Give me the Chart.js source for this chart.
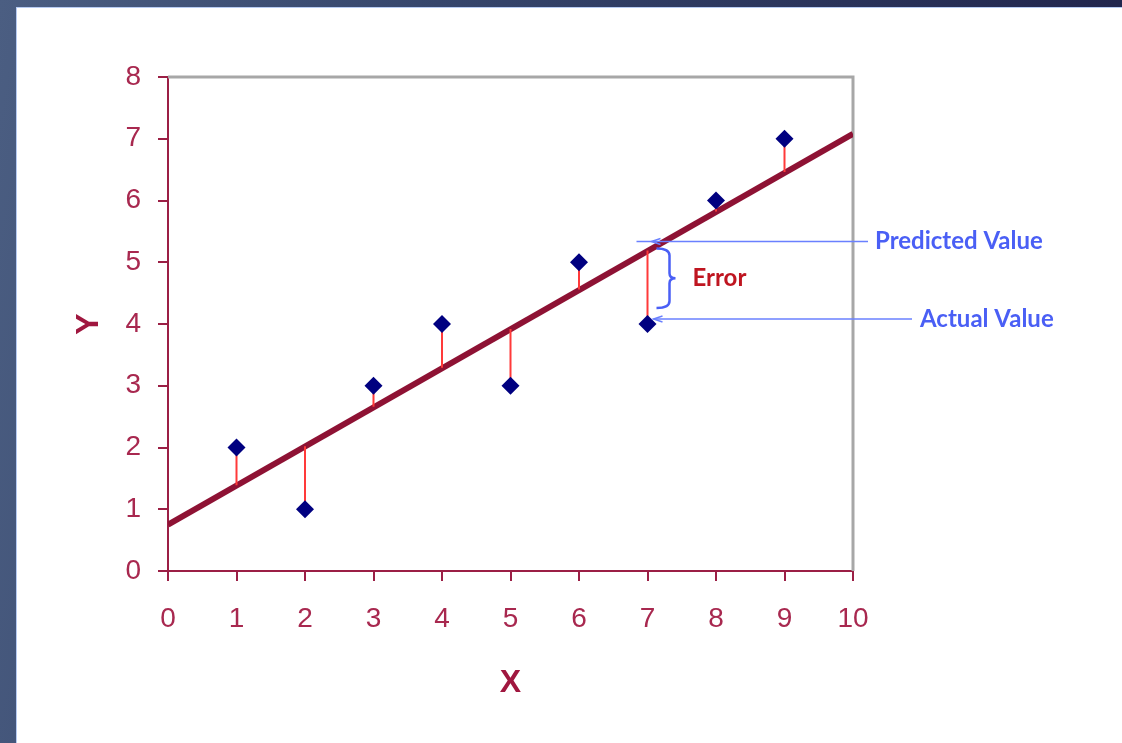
<!DOCTYPE html>
<html lang="en">
<head>
<meta charset="UTF-8" />
<title>Regression Error</title>
<script src="https://cdn.jsdelivr.net/npm/chart.js@4.4.0/dist/chart.umd.min.js"></script>
<style>
  html, body { margin: 0; padding: 0; width: 1122px; height: 743px; overflow: hidden; }
  body {
    position: relative;
    background: linear-gradient(100deg, #4b5e82 0%, #36466c 35%, #1e2048 100%);
  }
  .panel {
    position: absolute; left: 16px; top: 7px; right: 0; bottom: 0;
    background: #fff;
    border-left: 1px solid #b7cbf2;
    border-top: 1px solid #b7cbf2;
  }
  .chart-box { position: absolute; left: 0; top: 0; width: 1122px; height: 743px; }
</style>
</head>
<body>
<div class="panel"></div>
<div class="chart-box"><canvas id="chart"></canvas></div>

<script>
  // observations
  const xValues = [1, 2, 3, 4, 5, 6, 7, 8, 9];
  const yActual = [2, 1, 3, 4, 3, 5, 4, 6, 7];
  // fitted line value at each x
  const yPredicted = [1.39, 2.02, 2.66, 3.29, 3.92, 4.56, 5.19, 5.82, 6.46];
  // fitted line end points
  const fitX = [0, 10];
  const fitY = [0.75, 7.08];

  const xRange = [0, 10];
  const yRange = [0, 8];

  const calloutIndex = 6; // point at x = 7 carries the labels

  const axisRed = "#9b1f45";
  const labelRed = "#a8284f";
  const blue = "#4a5ff5";

  const fitPts = fitX.map((v, i) => ({ x: v, y: fitY[i] }));
  const actualPts = xValues.map((v, i) => ({ x: v, y: yActual[i] }));
  const residualPts = [];
  xValues.forEach((v, i) => {
    residualPts.push({ x: v, y: yActual[i] }, { x: v, y: yPredicted[i] }, { x: v, y: null });
  });

  // grey top/right edge of the plot box
  const framePlugin = {
    id: "frame",
    beforeDatasetsDraw(chart) {
      const { ctx, chartArea: a } = chart;
      ctx.save();
      ctx.strokeStyle = "#a7a7a7";
      ctx.lineWidth = 3;
      ctx.beginPath();
      ctx.moveTo(a.left, a.top);
      ctx.lineTo(a.right, a.top);
      ctx.lineTo(a.right, a.bottom);
      ctx.stroke();
      ctx.restore();
    }
  };

  function arrowLeft(ctx, x, y) {
    ctx.beginPath();
    ctx.moveTo(x + 9, y - 3);
    ctx.lineTo(x, y);
    ctx.lineTo(x + 9, y + 3);
    ctx.stroke();
  }

  // predicted / actual pointers, brace and "Error" text
  const calloutPlugin = {
    id: "callout",
    afterDatasetsDraw(chart) {
      const { ctx, scales: { x, y } } = chart;
      const px = x.getPixelForValue(xValues[calloutIndex]);
      const predY = y.getPixelForValue(yPredicted[calloutIndex]) - 9;
      const actY = y.getPixelForValue(yActual[calloutIndex]) - 5;

      ctx.save();
      ctx.strokeStyle = "#6a80ff";
      ctx.lineWidth = 1.5;

      ctx.beginPath();
      ctx.moveTo(px - 11, predY);
      ctx.lineTo(x.right + 15, predY);
      ctx.stroke();
      arrowLeft(ctx, px + 4, predY);

      ctx.beginPath();
      ctx.moveTo(px + 6, actY);
      ctx.lineTo(x.right + 59, actY);
      ctx.stroke();
      arrowLeft(ctx, px + 6, actY);

      // brace
      const bx = px + 22, top = predY + 7, bot = actY - 11, mid = (top + bot) / 2;
      ctx.strokeStyle = blue;
      ctx.lineWidth = 2.5;
      ctx.beginPath();
      ctx.moveTo(bx - 13, top);
      ctx.quadraticCurveTo(bx, top, bx, top + 7);
      ctx.lineTo(bx, mid - 5);
      ctx.quadraticCurveTo(bx, mid, bx + 6, mid);
      ctx.quadraticCurveTo(bx, mid, bx, mid + 5);
      ctx.lineTo(bx, bot - 7);
      ctx.quadraticCurveTo(bx, bot, bx - 13, bot);
      ctx.stroke();

      ctx.font = "bold 24px Lato";
      ctx.textBaseline = "middle";
      ctx.fillStyle = blue;
      ctx.fillText("Predicted Value", x.right + 22, predY);
      ctx.fillText("Actual Value", x.right + 67, actY);
      ctx.fillStyle = "#bf1520";
      ctx.fillText("Error", px + 45, mid);
      ctx.restore();
    }
  };

  const tickFont = { family: "Liberation Sans", size: 28 };
  const titleFont = { family: "Liberation Sans", size: 32, weight: "bold" };

  new Chart(document.getElementById("chart"), {
    type: "scatter",
    data: {
      datasets: [
        {
          data: actualPts,
          pointStyle: "rectRot",
          pointRadius: 9,
          backgroundColor: "#000080",
          borderColor: "#000080",
          borderWidth: 0
        },
        {
          data: residualPts,
          showLine: true,
          spanGaps: false,
          borderColor: "#ff3a3a",
          borderWidth: 2,
          pointRadius: 0
        },
        {
          data: fitPts,
          showLine: true,
          borderColor: "#8e1234",
          borderWidth: 6,
          pointRadius: 0
        }
      ]
    },
    options: {
      responsive: true,
      maintainAspectRatio: false,
      animation: false,
      events: [],
      layout: { padding: { top: 77, right: 269, left: 0, bottom: 0 } },
      plugins: { legend: { display: false }, tooltip: { enabled: false } },
      scales: {
        x: {
          type: "linear",
          min: xRange[0],
          max: xRange[1],
          afterFit: (s) => { s.height = 172; },
          ticks: { stepSize: 1, color: labelRed, font: tickFont, padding: 21 },
          grid: { drawOnChartArea: false, drawTicks: true, tickLength: 10, color: axisRed, lineWidth: 2 },
          border: { color: axisRed, width: 2 },
          title: { display: true, text: "X", color: "#a0173f", font: titleFont, padding: { top: 0, bottom: 41 } }
        },
        y: {
          min: yRange[0],
          max: yRange[1],
          afterFit: (s) => { s.width = 168; },
          ticks: { stepSize: 1, color: labelRed, font: tickFont, padding: 17 },
          grid: { drawOnChartArea: false, drawTicks: true, tickLength: 10, color: axisRed, lineWidth: 2 },
          border: { color: axisRed, width: 2 },
          title: { display: true, text: "Y", color: "#a0173f", font: titleFont, padding: { top: 70, bottom: 0 } }
        }
      }
    },
    plugins: [framePlugin, calloutPlugin]
  });
</script>
</body>
</html>
